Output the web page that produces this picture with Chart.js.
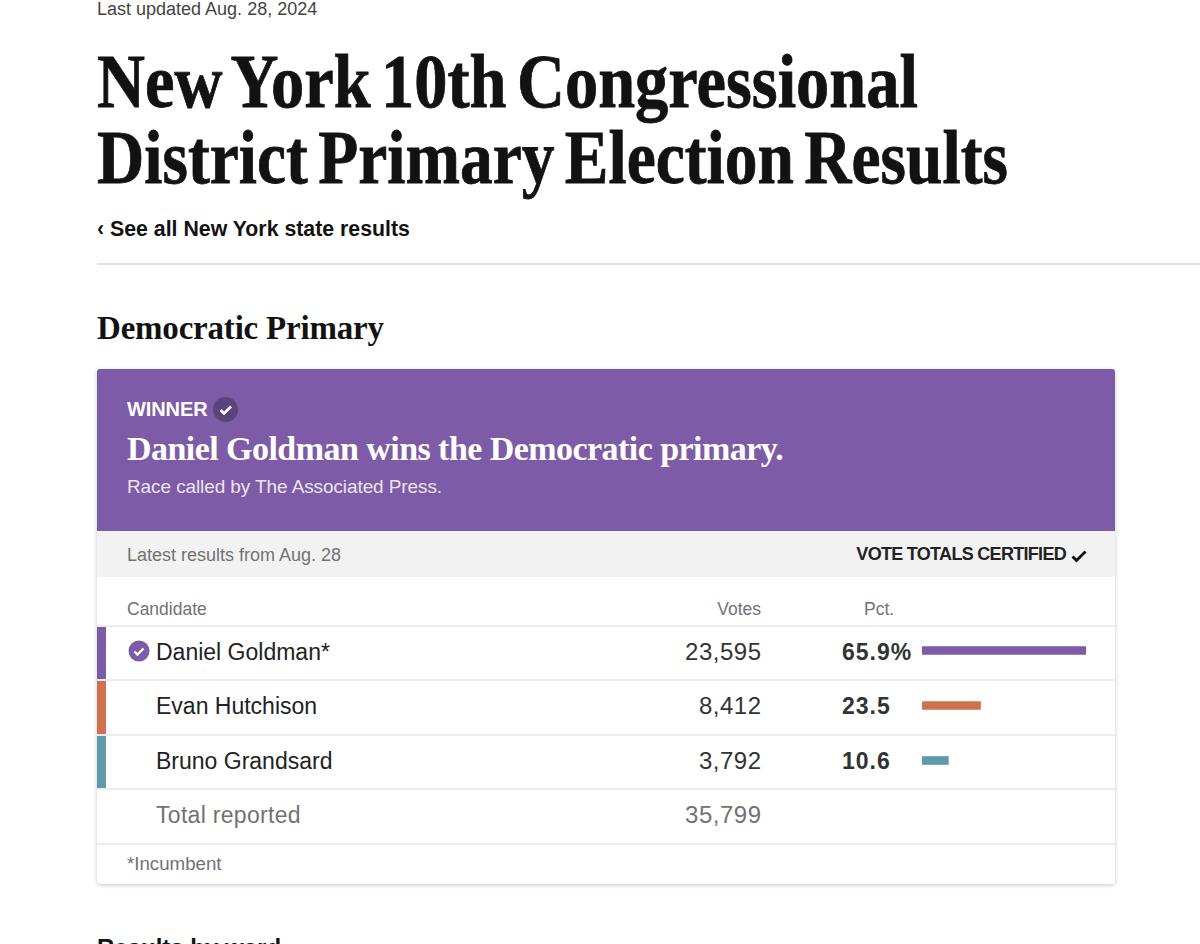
<!DOCTYPE html>
<html>
<head>
<meta charset="utf-8">
<title>New York 10th Congressional District Primary Election Results</title>
<script src="https://cdn.jsdelivr.net/npm/chart.js@4/dist/chart.umd.min.js"></script>
<style>
  html, body { margin: 0; padding: 0; background: #fff; }
  body { width: 1200px; height: 944px; overflow: hidden; position: relative; font-family: "Liberation Sans", sans-serif; color: #121212; }
  .abs { position: absolute; white-space: nowrap; }
  .serif { font-family: "Liberation Serif", serif; font-weight: 700; }
  .title { left: 97px; font-size: 77px; line-height: 72px; word-spacing: -7px; color: #121212; transform-origin: left center; -webkit-text-stroke: .8px #121212; }
  #card { left: 97px; top: 369px; width: 1018px; height: 515px; box-shadow: 0 1px 4px rgba(0,0,0,.22); border-radius: 3px; background: #fff; }
  #banner { left: 97px; top: 369px; width: 1018px; height: 162px; background: #7d5ba6; border-radius: 3px 3px 0 0; }
  #status { left: 97px; top: 531px; width: 1018px; height: 46px; background: #f2f2f2; }
  .rule { left: 97px; width: 1018px; height: 2px; background: #ececec; }
  .stripe { left: 97px; width: 9px; }
  .head { font-size: 17.5px; color: #727272; }
  .name { left: 156px; font-size: 23px; color: #222; }
  .votes { right: 438.5px; font-size: 24px; letter-spacing: .5px; color: #333; }
  .pct { font-size: 23px; letter-spacing: 1px; font-weight: 700; color: #333; }
  #chartBox { position: absolute; left: 922px; top: 623px; width: 164px; height: 165px; }
</style>
</head>
<body>
<div class="abs" style="left:97px;top:-1px;font-size:18px;color:#444">Last updated Aug. 28, 2024</div>
<div class="abs serif title" style="top:45px;transform:scaleX(.862)">New York 10th Congressional</div>
<div class="abs serif title" style="top:121px;transform:scaleX(.85)">District Primary Election Results</div>
<div class="abs" style="left:97px;top:217px;font-size:21.3px;font-weight:700">‹ See all New York state results</div>
<div class="abs" style="left:97px;top:263px;width:1103px;height:2px;background:#e2e2e2"></div>
<div class="abs serif" style="left:97px;top:310px;font-size:33px;letter-spacing:-.2px">Democratic Primary</div>

<div class="abs" id="card"></div>
<div class="abs" id="banner"></div>
<div class="abs" style="left:127px;top:398px;font-size:20px;font-weight:700;letter-spacing:-.1px;color:#fff">WINNER</div>
<svg class="abs" style="left:213px;top:397px" width="25" height="25" viewBox="0 0 25 25"><circle cx="12.5" cy="12.5" r="12.5" fill="#5b437c"/><path d="M7.5 13l3.5 3.5 7-7" fill="none" stroke="#fff" stroke-width="2.6"/></svg>
<div class="abs serif" style="left:127px;top:430px;font-size:34px;letter-spacing:-.55px;color:#fff">Daniel Goldman wins the Democratic primary.</div>
<div class="abs" style="left:127px;top:476px;font-size:19px;letter-spacing:-.1px;color:#ebe4f3">Race called by The Associated Press.</div>

<div class="abs" id="status"></div>
<div class="abs" style="left:127px;top:545px;font-size:18px;color:#727272">Latest results from Aug. 28</div>
<div class="abs" style="right:134px;top:544px;font-size:18px;font-weight:700;letter-spacing:-.7px;color:#222">VOTE TOTALS CERTIFIED</div>
<svg class="abs" style="left:1071px;top:549px" width="16" height="14" viewBox="0 0 16 14"><path d="M1.5 7.5l4 4 9-9" fill="none" stroke="#111" stroke-width="2.8"/></svg>

<div class="abs head" style="left:127px;top:599px">Candidate</div>
<div class="abs head" style="right:439px;top:599px">Votes</div>
<div class="abs head" style="left:864px;top:599px">Pct.</div>

<div id="rows"></div>

<div class="abs" style="left:127px;top:853px;font-size:18.7px;color:#727272">*Incumbent</div>
<div class="abs" style="left:97px;top:934px;font-size:24px;font-weight:700">Results by ward</div>

<div id="chartBox"><canvas id="pctChart"></canvas></div>

<script>
// =================== DATA ===================
const candidates = ['Daniel Goldman*', 'Evan Hutchison', 'Bruno Grandsard'];
const votes = ['23,595', '8,412', '3,792'];
const pctValues = [65.9, 23.5, 10.6];
const pctLabels = ['65.9%', '23.5', '10.6'];
const totalLabel = 'Total reported';
const totalVotes = '35,799';

const barColors = ['#7d5ba6', '#d0714d', '#5e9aab'];

// =================== TABLE ===================
function renderRows() {
  const rowTops = [626, 680, 735];
  const rowHeights = [54, 55, 54];
  let html = '';
  candidates.forEach((name, i) => {
    const top = rowTops[i];
    html += `<div class="abs stripe" style="top:${top}px;height:${rowHeights[i]}px;background:${barColors[i]}"></div>`;
    html += `<div class="abs name" style="top:${top + 13}px">${name}</div>`;
    html += `<div class="abs votes" style="top:${top + 12}px">${votes[i]}</div>`;
    html += `<div class="abs pct" style="left:842px;top:${top + 13}px">${pctLabels[i]}</div>`;
  });
  html += `<div class="abs name" style="top:802px;letter-spacing:.3px;color:#727272">${totalLabel}</div>`;
  html += `<div class="abs votes" style="top:801px;color:#727272">${totalVotes}</div>`;
  [625, 679, 734, 788, 843].forEach(y => {
    html += `<div class="abs rule" style="top:${y}px"></div>`;
  });
  html += `<svg class="abs" style="left:128px;top:640px" width="22" height="22" viewBox="0 0 22 22"><circle cx="11" cy="11" r="10.5" fill="${barColors[0]}"/><path d="M6.5 11.5l3 3 6-6" fill="none" stroke="#fff" stroke-width="2.4"/></svg>`;
  document.getElementById('rows').innerHTML = html;
}
renderRows();

// =================== CHART ===================
new Chart(document.getElementById('pctChart'), {
  type: 'bar',
  data: {
    labels: candidates,
    datasets: [{
      data: pctValues,
      backgroundColor: barColors,
      barThickness: 8
    }]
  },
  options: {
    indexAxis: 'y',
    responsive: true,
    maintainAspectRatio: false,
    animation: false,
    layout: { padding: 0 },
    plugins: {
      legend: { display: false },
      tooltip: { enabled: false }
    },
    scales: {
      x: { display: false, min: 0, max: 65.9 },
      y: { display: false }
    }
  }
});
</script>
</body>
</html>
